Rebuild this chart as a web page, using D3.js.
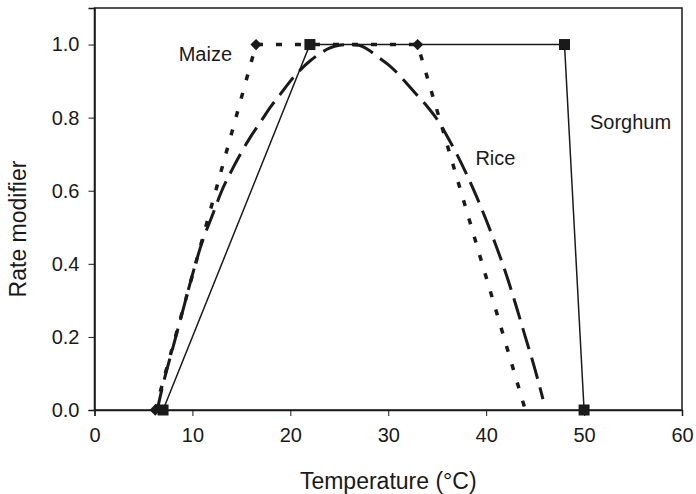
<!DOCTYPE html>
<html>
<head>
<meta charset="utf-8">
<script src="https://cdn.jsdelivr.net/npm/d3@7"></script>
<style>
  html, body { margin: 0; padding: 0; background: #fff; }
  svg { display: block; font-family: "Liberation Sans", Arial, Helvetica, sans-serif; }
</style>
</head>
<body>
<svg id="chart" width="696" height="494"></svg>
<script>
// Temperature response (rate modifier) of three crops
const xTicks = [0, 10, 20, 30, 40, 50, 60];
const yTicks = [0, 0.2, 0.4, 0.6, 0.8, 1.0];

// Maize: piecewise linear, markers on the first three corners
const maizeTemp = [6.2, 16.5, 33, 44];
const maizeRate = [0, 1, 1, 0];
const maizeMarked = [true, true, true, false];

// Sorghum: piecewise linear with markers on every corner
const sorghumTemp = [7, 22, 48, 50];
const sorghumRate = [0, 1, 1, 0];

// Rice: smooth curve
const riceTemp = [6.4, 7, 8, 9, 10, 11, 12, 13, 14, 15, 16, 17, 18, 19, 20, 21, 22, 23, 24, 25, 26, 27, 28, 29, 30, 31, 32, 33, 34, 35, 36, 37, 38, 39, 40, 41, 42, 43, 44, 45, 45.8];
const riceRate = [0, 0.07, 0.17, 0.27, 0.37, 0.46, 0.53, 0.6, 0.655, 0.705, 0.75, 0.79, 0.83, 0.865, 0.9, 0.93, 0.955, 0.975, 0.99, 0.998, 1.0, 0.998, 0.985, 0.965, 0.945, 0.92, 0.89, 0.86, 0.83, 0.795, 0.75, 0.7, 0.645, 0.585, 0.52, 0.45, 0.375, 0.29, 0.2, 0.11, 0.03];

const seriesLabels = [
  { text: "Maize", t: 8.6, r: 0.955 },
  { text: "Rice", t: 38.9, r: 0.67 },
  { text: "Sorghum", t: 50.6, r: 0.77 }
];

const svg = d3.select("#chart");
const plot = { left: 94.5, right: 682, top: 8, bottom: 410 };
const ink = "#1a1a1a";

const x = d3.scaleLinear().domain([0, 60]).range([plot.left, plot.right]);
const y = d3.scaleLinear().domain([0, 1.1]).range([plot.bottom, plot.top]);

// plot frame
svg.append("rect")
  .attr("x", plot.left).attr("y", plot.top)
  .attr("width", plot.right - plot.left).attr("height", plot.bottom - plot.top)
  .attr("fill", "none").attr("stroke", ink).attr("stroke-width", 1.5);

// axes
const xAxis = svg.append("g")
  .attr("transform", `translate(0,${plot.bottom})`)
  .call(d3.axisBottom(x).tickValues(xTicks).tickSize(6).tickPadding(12).tickFormat(d3.format("d")));
const yAxis = svg.append("g")
  .attr("transform", `translate(${plot.left},0)`)
  .call(d3.axisLeft(y).tickValues(yTicks).tickSize(6).tickPadding(9).tickFormat(d3.format(".1f")));

[xAxis, yAxis].forEach(g => {
  g.select(".domain").attr("stroke", ink).attr("stroke-width", 1.5);
  g.selectAll(".tick line").attr("stroke", ink).attr("stroke-width", 1);
  g.selectAll(".tick text").attr("fill", ink).attr("font-size", 20)
    .attr("font-family", "Liberation Sans, Arial, sans-serif");
});

// axis titles
svg.append("text")
  .attr("x", (plot.left + plot.right) / 2).attr("y", 489)
  .attr("text-anchor", "middle").attr("font-size", 23).attr("fill", ink)
  .text("Temperature (\u00B0C)");
svg.append("text")
  .attr("transform", `translate(26,${(plot.top + plot.bottom) / 2 + 20}) rotate(-90)`)
  .attr("text-anchor", "middle").attr("font-size", 23).attr("fill", ink)
  .text("Rate modifier");

const line = d3.line().x(d => x(d[0])).y(d => y(d[1]));
const zip = (a, b) => a.map((v, i) => [v, b[i]]);

// Sorghum: thin solid line
svg.append("path")
  .datum(zip(sorghumTemp, sorghumRate))
  .attr("d", line).attr("fill", "none")
  .attr("stroke", ink).attr("stroke-width", 1.5);

// Rice: long dashes
svg.append("path")
  .datum(zip(riceTemp, riceRate))
  .attr("d", d3.line().x(d => x(d[0])).y(d => y(d[1])).curve(d3.curveMonotoneX))
  .attr("fill", "none")
  .attr("stroke", ink).attr("stroke-width", 3).attr("stroke-dasharray", "22,9");

// Maize: short heavy dots
svg.append("path")
  .datum(zip(maizeTemp, maizeRate))
  .attr("d", line).attr("fill", "none")
  .attr("stroke", ink).attr("stroke-width", 3.5).attr("stroke-dasharray", "6,13");

// markers
const sq = 11;
svg.append("g").selectAll("rect")
  .data(zip(sorghumTemp, sorghumRate))
  .join("rect")
  .attr("x", d => x(d[0]) - sq / 2).attr("y", d => y(d[1]) - sq / 2)
  .attr("width", sq).attr("height", sq).attr("fill", ink);

svg.append("g").selectAll("path")
  .data(zip(maizeTemp, maizeRate).filter((d, i) => maizeMarked[i]))
  .join("path")
  .attr("transform", d => `translate(${x(d[0])},${y(d[1])}) rotate(45)`)
  .attr("d", d3.symbol().type(d3.symbolSquare).size(64)).attr("fill", ink);

// series labels
svg.append("g").selectAll("text")
  .data(seriesLabels)
  .join("text")
  .attr("x", d => x(d.t)).attr("y", d => y(d.r))
  .attr("font-size", 20).attr("fill", ink)
  .text(d => d.text);
</script>
</body>
</html>
